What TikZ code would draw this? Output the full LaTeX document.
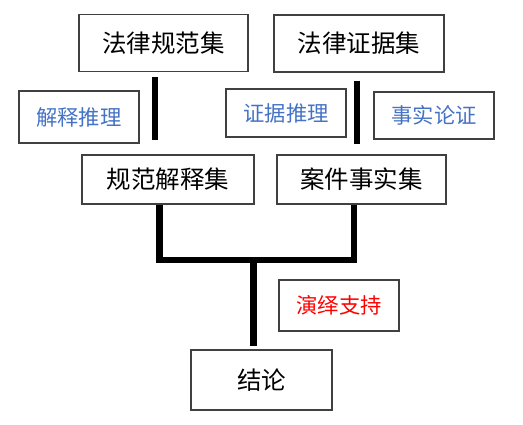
\documentclass[tikz,border=0pt]{standalone}
\usepackage{fontspec}
\newfontfamily\cjk{Noto Sans CJK SC}
\definecolor{boxline}{HTML}{404040}
\definecolor{lblue}{HTML}{4472C4}
\begin{document}
\begin{tikzpicture}[x=1pt,y=-1pt,
  setbox/.style={draw=boxline,line width=1.2pt,inner sep=0pt,font=\cjk\fontsize{24.5}{24.5}\selectfont},
  labbox/.style={draw=boxline,line width=1.2pt,inner sep=0pt,font=\cjk\fontsize{21.3}{21.3}\selectfont},
  bar/.style={line width=6.5pt,line join=miter}]
\useasboundingbox (0,0) rectangle (523,425);
% set boxes
\node[setbox,minimum width=169pt,minimum height=57pt] (lawnorm) at (163.5,43) {法律规范集\hspace{12pt}};
\node[setbox,minimum width=170pt,minimum height=57pt] (lawevid) at (359,43.5) {法律证据集\hspace{12pt}};
\node[setbox,minimum width=172pt,minimum height=49pt] (normint) at (168,179.5) {规范解释集\hspace{14pt}};
\node[setbox,minimum width=169pt,minimum height=49pt] (casefact) at (361.5,179.5) {案件事实集\hspace{12pt}};
\node[setbox,minimum width=141pt,minimum height=60pt] (concl) at (261.5,380) {结论\hspace{9pt}};
% label boxes
\node[labbox,text=lblue,minimum width=120pt,minimum height=52pt] (interp) at (79,117) {解释推理};
\node[labbox,text=lblue,minimum width=120pt,minimum height=48pt] (evreason) at (286,113) {证据推理};
\node[labbox,text=lblue,minimum width=120pt,minimum height=47pt] (factarg) at (434,115.5) {事实论证};
\node[labbox,text=red,minimum width=120pt,minimum height=51pt] (deduct) at (339,305.5) {演绎支持};
% bar positions
\coordinate (xl) at (155,0);
\coordinate (xr) at (357,0);
\coordinate (xbl) at (159.5,0);
\coordinate (xbr) at (354,0);
\coordinate (xc) at (253.5,0);
\coordinate (join) at (253.5,260);
% connectors
\draw[bar] ([yshift=-5pt]lawnorm.south -| xl) -- ([yshift=14pt]normint.north -| xl);
\draw[bar] ([yshift=-8pt]lawevid.south -| xr) -- ([yshift=10pt]casefact.north -| xr);
\draw[bar] (normint.south -| xbl) -- (join -| xbl) -- (join -| xbr) -- (casefact.south -| xbr);
\draw[bar] (join) -- ([yshift=3pt]concl.north -| xc);
\end{tikzpicture}
\end{document}
